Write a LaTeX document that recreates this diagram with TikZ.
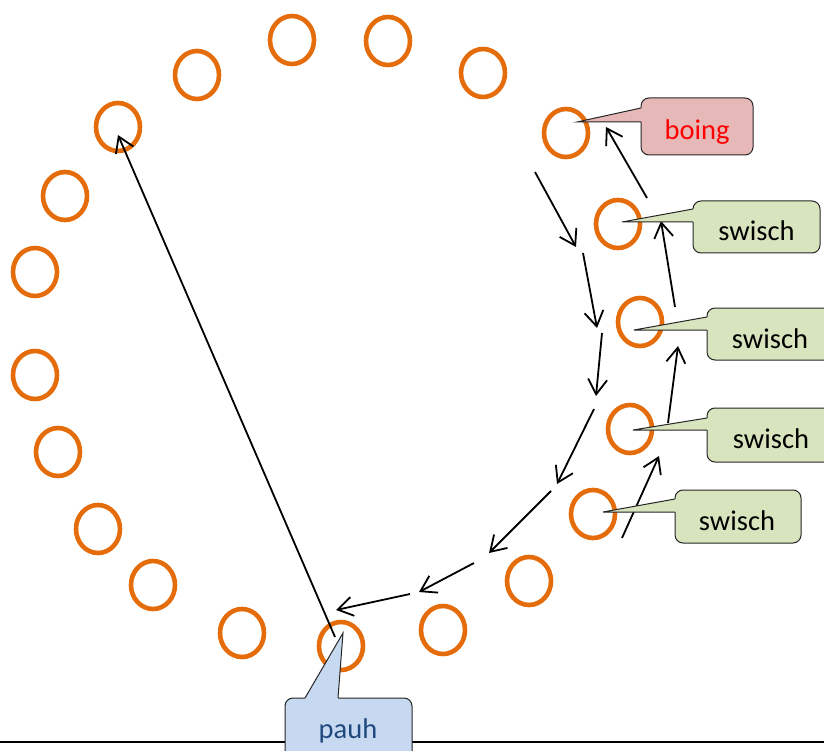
\documentclass[tikz,border=0pt]{standalone}
\usepackage{fontspec}
\setmainfont{Carlito}
\usetikzlibrary{shapes.geometric,arrows.meta}
\definecolor{ringor}{HTML}{E46C0A}
\definecolor{boingfill}{HTML}{E6B9B8}
\definecolor{swfill}{HTML}{D7E4BD}
\definecolor{pauhfill}{HTML}{C6D9F1}
\definecolor{pauhtext}{HTML}{1F497D}
\definecolor{boxline}{HTML}{262626}
\newcommand\leftcallout[8]{%
  \filldraw[#1,draw=boxline,line width=1pt,rounded corners=8pt] (#2,#3) rectangle (#4,#5);
  \fill[#1] #6 -- (#2,#7) -- (#2+3,#7) -- (#2+3,#8) -- (#2,#8) -- cycle;
  \draw[boxline,line width=1pt] (#2,#7) -- #6 -- (#2,#8);
}
\begin{document}
\begin{tikzpicture}[x=1pt,y=-1pt,
  ring/.style={ellipse,draw=ringor,line width=4.6pt,minimum width=44pt,minimum height=48pt,inner sep=0pt},
  flow/.style={line width=1.8pt,-{Straight Barb[length=15pt,width=19pt,line width=1.8pt]}},
  txt/.style={anchor=base,inner sep=0pt,font=\fontsize{28.5}{34}\selectfont}]
\useasboundingbox (0,0) rectangle (824,751);
\clip (0,0) rectangle (824,751);
% rings
\node[ring] (c1) at (197,75) {};
\node[ring] (c2) at (292,40) {};
\node[ring] (c3) at (388,41) {};
\node[ring] (c4) at (483,73) {};
\node[ring] (c5) at (566,133) {};
\node[ring] (c6) at (618,224) {};
\node[ring] (c7) at (640,322) {};
\node[ring] (c8) at (630,429) {};
\node[ring] (c9) at (593,514) {};
\node[ring] (c10) at (529,581) {};
\node[ring] (c11) at (443,630) {};
\node[ring] (c12) at (341,646) {};
\node[ring] (c13) at (242,633) {};
\node[ring] (c14) at (153,585) {};
\node[ring] (c15) at (98,529) {};
\node[ring] (c16) at (58,452) {};
\node[ring] (c17) at (35,375) {};
\node[ring] (c18) at (35,272) {};
\node[ring] (c19) at (65,196) {};
\node[ring] (c20) at (118,127) {};
% bottom line
\coordinate (gl) at (0,742);
\coordinate (gr) at (824,742);
\draw[line width=1.5pt] (gl) -- (gr);
% arrow coordinates
\coordinate (a1s) at (535,172); \coordinate (a1e) at (576,247);
\coordinate (a2s) at (583,253); \coordinate (a2e) at (597,328);
\coordinate (a3s) at (602,333); \coordinate (a3e) at (596,396);
\coordinate (a4s) at (594,409); \coordinate (a4e) at (557,484);
\coordinate (a5s) at (551,491); \coordinate (a5e) at (489,553);
\coordinate (a6s) at (474,563); \coordinate (a6e) at (419,592);
\coordinate (a7s) at (410,594); \coordinate (a7e) at (336,610);
\coordinate (a8s) at (335,637); \coordinate (a8e) at (118,135);
\coordinate (a9s) at (622,538); \coordinate (a9e) at (659,456);
\coordinate (a10s) at (668,423); \coordinate (a10e) at (678,346);
\coordinate (a11s) at (675,307); \coordinate (a11e) at (661,221);
\coordinate (a12s) at (647,198); \coordinate (a12e) at (606,127);
\foreach \i in {1,...,12} {\draw[flow] (a\i s) -- (a\i e);}
% callouts
\leftcallout{boingfill}{641}{98}{753}{155}{(577,122)}{108}{122}
\node[txt,text=red] (tboing) at (697,140) {boing};
\leftcallout{swfill}{693}{201}{820}{253}{(622,222)}{209}{222}
\node[txt] (tsw1) at (756.5,240.5) {swisch};
\leftcallout{swfill}{707}{308}{835}{360}{(634,330)}{317}{330}
\node[txt] (tsw2) at (770,348) {swisch};
\leftcallout{swfill}{707}{408}{835}{462}{(633,430)}{418}{430}
\node[txt] (tsw3) at (771,448) {swisch};
\leftcallout{swfill}{675}{490}{801}{543}{(603,512)}{499}{512}
\node[txt] (tsw4) at (737,530.5) {swisch};
% pauh callout
\filldraw[pauhfill,draw=boxline,line width=1pt,rounded corners=8pt] (285,698) rectangle (412,775);
\fill[pauhfill] (343,633) -- (305,698) -- (305,701) -- (338,701) -- (338,698) -- cycle;
\draw[boxline,line width=1pt] (305,698) -- (343,633) -- (338,698);
\node[txt,text=pauhtext] (tpauh) at (348,738) {pauh};
\end{tikzpicture}
\end{document}
